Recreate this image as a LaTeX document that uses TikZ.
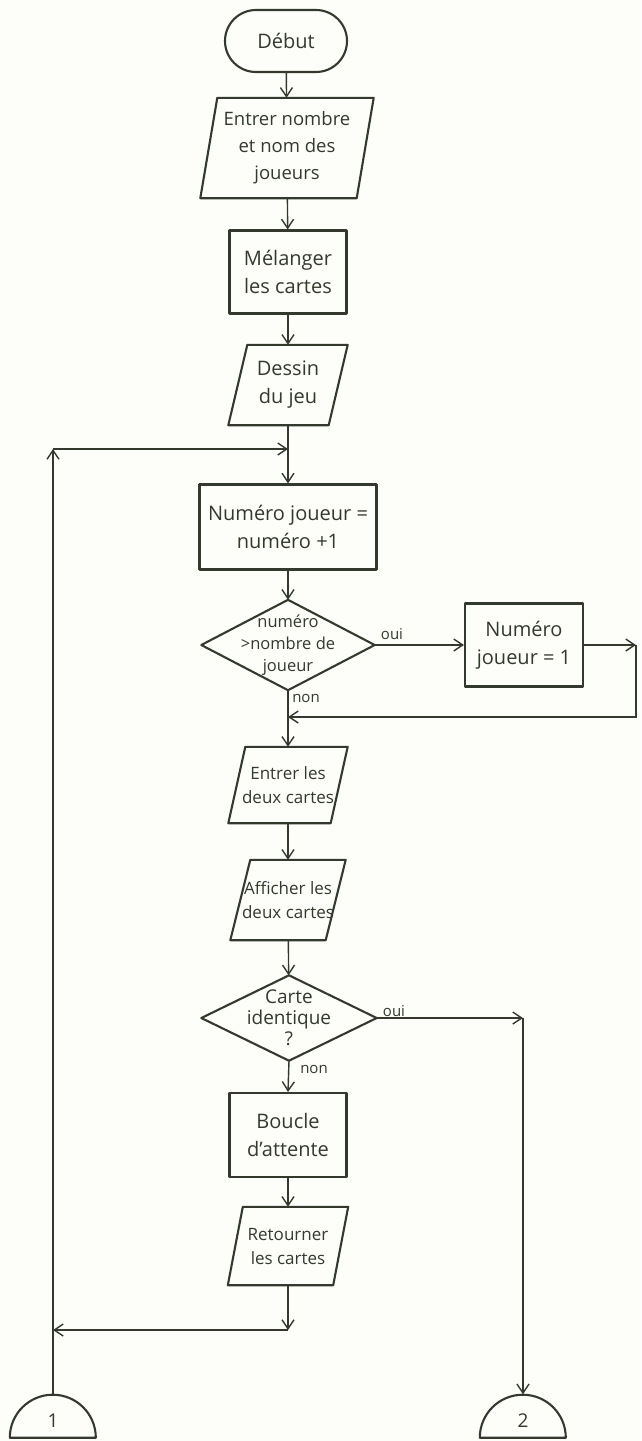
\documentclass[tikz,border=0pt]{standalone}
\usepackage{fontspec}
\setmainfont{Open Sans}
\usetikzlibrary{arrows.meta,calc}
\definecolor{ink}{HTML}{333A2D}
\definecolor{paper}{HTML}{FDFDF9}
\newcommand\paradraw[2]{\draw[shapeline] (#1.south west) -- ($(#1.north west)+(#2,0)$) -- (#1.north east) -- ($(#1.south east)-(#2,0)$) -- cycle;}
\newcommand\diadraw[1]{\draw[shapeline] (#1.north) -- (#1.east) -- (#1.south) -- (#1.west) -- cycle;}
\newcommand\domedraw[1]{\draw[shapeline] (#1.south west) arc[start angle=180,end angle=0,radius=43pt] -- cycle;}
\tikzset{
  shapeline/.style={draw=ink, line width=2.1pt, line join=round},
  base/.style={inner sep=0pt, align=center, text=ink, font=\fontsize{20}{28}\selectfont},
  boxnode/.style={base, shapeline},
  freenode/.style={base},
  small/.style={font=\fontsize{17}{24}\selectfont},
  lbl/.style={text=ink, font=\fontsize{15}{17}\selectfont, inner sep=0pt},
  arr/.style={draw=ink, line width=1.4pt, -{Straight Barb[length=9pt,width=12pt,line width=1.4pt]}},
}
\begin{document}
\begin{tikzpicture}[x=1pt,y=-1pt]
\fill[paper] (0,0) rectangle (641,1441);
\useasboundingbox (0,0) rectangle (641,1441);

% nodes
\node[boxnode, rounded corners=31pt, minimum width=122pt, minimum height=62pt] (deb) at (286,41) {Début};
\node[freenode, font=\fontsize{18.5}{27}\selectfont, minimum width=173pt, minimum height=100pt] (ent) at (287,148) {Entrer nombre\\et nom des\\joueurs};
\node[boxnode, minimum width=117pt, minimum height=83pt] (mel) at (288,272) {Mélanger\\les cartes};
\node[freenode, minimum width=119pt, minimum height=80pt] (des) at (288,385) {Dessin\\du jeu};
\node[boxnode, minimum width=177pt, minimum height=85pt] (num) at (288,527) {Numéro joueur =\\numéro +1};
\node[freenode, font=\fontsize{16.5}{22}\selectfont, minimum width=173pt, minimum height=90pt] (d1) at (288,645) {numéro\\>nombre de\\joueur};
\node[boxnode, minimum width=118pt, minimum height=83pt] (n1) at (524,645) {Numéro\\joueur = 1};
\node[freenode, small, minimum width=119pt, minimum height=76pt] (e2) at (288,785) {Entrer les\\deux cartes};
\node[freenode, small, minimum width=115pt, minimum height=80pt] (aff) at (288,900) {Afficher les\\deux cartes};
\node[freenode, font=\fontsize{19}{21}\selectfont, minimum width=175pt, minimum height=85pt] (d2) at (289,1018) {Carte\\identique\\?};
\node[boxnode, minimum width=117pt, minimum height=84pt] (bou) at (288,1135) {Boucle\\d'attente};
\node[freenode, small, minimum width=120pt, minimum height=78pt] (ret) at (288,1246) {Retourner\\les cartes};
\node[freenode, minimum width=86pt, minimum height=43pt] (c1) at (53,1416) {};
\node[freenode, minimum width=86pt, minimum height=43pt] (c2) at (523,1416) {};
\node[lbl, font=\fontsize{19}{20}\selectfont] (c1t) at (53,1421) {1};
\node[lbl, font=\fontsize{19}{20}\selectfont] (c2t) at (523,1421) {2};

% shapes
\paradraw{ent}{17}
\paradraw{des}{19}
\paradraw{e2}{17}
\paradraw{aff}{20}
\paradraw{ret}{15}
\diadraw{d1}
\diadraw{d2}
\domedraw{c1}
\domedraw{c2}

% helper coordinates
\coordinate (L1) at (53,449);
\coordinate (J1) at (288,449);
\coordinate (R1) at (636,645);
\coordinate (R2) at (636,717);
\coordinate (J2) at (288,717);
\coordinate (R3) at (523,1018);
\coordinate (B1) at (288,1330);
\coordinate (B2) at (53,1330);

% connectors
\draw[arr] (deb) -- (ent);
\draw[arr] (ent) -- (mel);
\draw[arr] (mel) -- (des);
\draw[arr] (des) -- (num);
\draw[arr] (c1) -- (L1);
\draw[arr] (L1) -- (J1);
\draw[arr] (num) -- (d1);
\draw[arr] (d1.east) -- (n1.west);
\draw[arr] (n1.east) -- (R1);
\draw[arr] (R1) -- (R2) -- (J2);
\draw[arr] (d1.south) -- (e2.north);
\draw[arr] (e2) -- (aff);
\draw[arr] (aff) -- (d2);
\draw[arr] (d2.east) -- (R3);
\draw[arr] (R3) -- (c2.north);
\draw[arr] (d2.south) -- (bou.north);
\draw[arr] (bou) -- (ret);
\draw[arr] (ret) -- (B1);
\draw[arr] (B1) -- (B2);

% labels
\node[lbl] (o1) at (392,634) {oui};
\node[lbl] (n1l) at (306,698) {non};
\node[lbl] (o2) at (394,1011) {oui};
\node[lbl] (n2l) at (314,1069) {non};
\end{tikzpicture}
\end{document}
